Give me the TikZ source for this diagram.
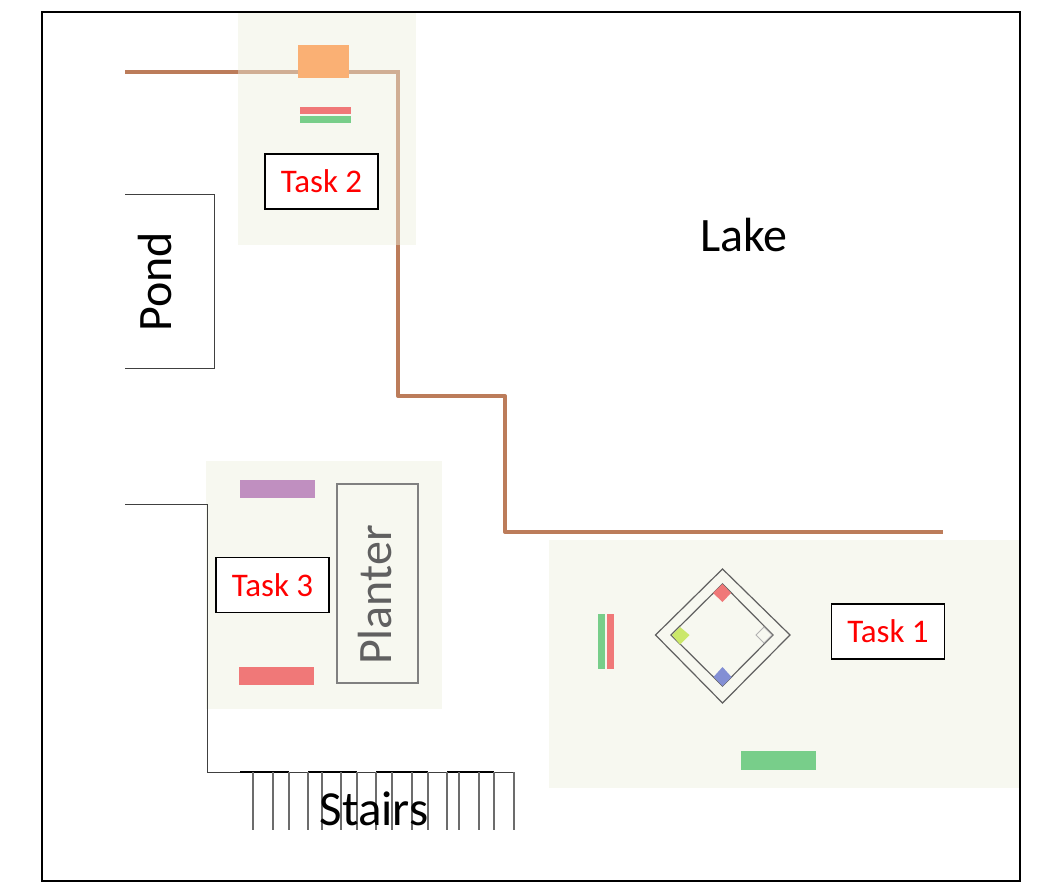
\documentclass[tikz,border=0pt]{standalone}
\usepackage{fontspec}
\setmainfont{Carlito}
\definecolor{areabg}{HTML}{F7F8F0}
\definecolor{pathbrown}{HTML}{BC7C5A}
\definecolor{pathfaint}{HTML}{D0AE94}
\definecolor{wall}{HTML}{404040}
\definecolor{barred}{HTML}{F07878}
\definecolor{bargreen}{HTML}{78CE8A}
\definecolor{barorange}{HTML}{FAB074}
\definecolor{barpurple}{HTML}{C08FC0}
\definecolor{plantergray}{HTML}{606060}
\definecolor{basegreen}{HTML}{CBE86A}
\definecolor{baseblue}{HTML}{838FD4}
\tikzset{
  area/.style={fill=areabg,draw=none},
  walk/.style={draw=pathbrown,line width=4pt,line join=round},
  walkfaint/.style={draw=pathfaint,line width=4pt,line join=miter},
  wallline/.style={draw=wall,line width=0.9pt},
  tasklabel/.style={draw=black,fill=white,line width=1.2pt,minimum width=113pt,minimum height=55pt,inner sep=0pt,text=red,font=\fontsize{33}{37}\selectfont},
  bigtext/.style={font=\fontsize{48}{52}\selectfont,inner sep=0pt},
  stairline/.style={draw=gray!85!black,line width=1.2pt},
  diamondline/.style={draw=gray!75!black,line width=1.2pt},
}
\begin{document}
\begin{tikzpicture}[x=1pt,y=-1pt]
\useasboundingbox (0,0) rectangle (1061,882);
\fill[white] (0,0) rectangle (1061,882);
% task areas
\fill[area] (238,13) rectangle (416,245);
\fill[area] (206,461) rectangle (442,709);
\fill[area] (549,540) rectangle (1020,788);
% path
\coordinate (p0) at (125,72.5);
\coordinate (p1) at (238,72.5);
\coordinate (p2) at (398,72.5);
\coordinate (p3) at (398,245);
\coordinate (p4) at (398,396);
\coordinate (p5) at (505,396);
\coordinate (p6) at (505,532);
\coordinate (p7) at (943,532);
\draw[walk] (p0) -- (p1);
\draw[walkfaint] (p1) -- (p2) -- (p3);
\draw[walk] (p3) -- (p4) -- (p5) -- (p6) -- (p7);
% task 2 gear
\fill[barorange] (298,45) rectangle (349,78);
\fill[barred] (300,107) rectangle (351,114);
\fill[bargreen] (300,116) rectangle (351,123);
\node[tasklabel] (t2) at (321.5,181.5) {Task 2};
% pond
\draw[wallline] (125,194) -- (214,194) -- (214,368) -- (125,368);
\node[bigtext,rotate=90] (pond) at (155,282) {Pond};
\node[bigtext] (lake) at (744,235) {Lake};
% task 3 area
\fill[barpurple] (240,480) rectangle (315,498);
\fill[barred] (239,667) rectangle (314,685);
\draw[draw=gray,line width=1.1pt] (337,484) rectangle (418,683);
\node[bigtext,rotate=90,text=plantergray] (planter) at (375,595) {Planter};
\node[tasklabel] (t3) at (272.5,585) {Task 3};
% walls
\draw[wallline] (125,504) -- (207,504) -- (207,772) -- (515,772);
\draw[draw=black,line width=1.3pt] (240,772) -- (289,772) (308,772) -- (357,772) (376,772) -- (428,772) (447,772) -- (494,772);
% stairs
\foreach \sx in {253,273,289,308,322,341,357,376,392,412,428,447,459,479,494,514}
  \draw[stairline] (\sx,772) -- (\sx,830);
\node[bigtext,font=\fontsize{49}{53}\selectfont] (stairs) at (374,809) {Stairs};
% task 1 area
\fill[barred] (607,614) rectangle (614,669);
\fill[bargreen] (598,614) rectangle (605,669);
\fill[bargreen] (741,751) rectangle (816,770);
\draw[diamondline] (722.5,569) -- (790,635) -- (722.5,703) -- (655.5,635) -- cycle;
\draw[diamondline] (722.5,584) -- (773,635) -- (722.5,686) -- (671,635) -- cycle;
\fill[barred] (722.5,584) -- (731,593) -- (722.5,602) -- (713,593) -- cycle;
\fill[basegreen] (680,627) -- (689.5,635) -- (680,644.5) -- (672,635) -- cycle;
\fill[baseblue] (722.5,667) -- (731.5,677) -- (722.5,686) -- (713.5,677) -- cycle;
\draw[draw=gray!60,line width=0.9pt,fill=areabg] (764,627) -- (772,635) -- (764,643) -- (756,635) -- cycle;
\node[tasklabel] (t1) at (888,631.5) {Task 1};
% frame
\draw[draw=black,line width=1.6pt] (42,12) rectangle (1020,881);
\end{tikzpicture}
\end{document}
